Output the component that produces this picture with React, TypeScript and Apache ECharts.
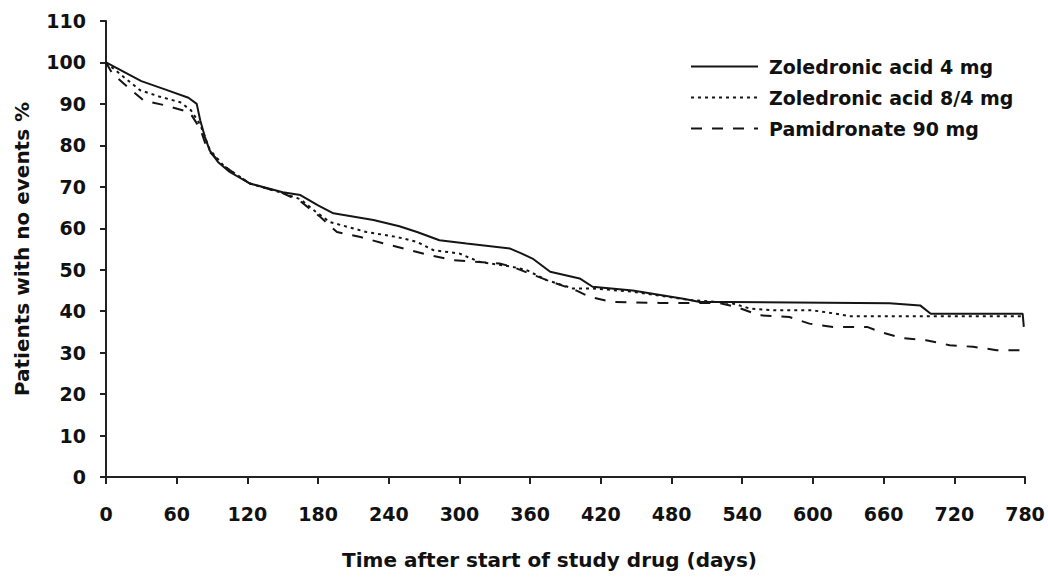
import React, { useEffect, useRef } from "react";
import * as echarts from "echarts";

const seriesNames = ["Zoledronic acid 4 mg", "Zoledronic acid 8/4 mg", "Pamidronate 90 mg"];

const za4: [number, number][] = [
  [0, 100], [10, 98.5], [30, 95.5], [50, 93.5], [70, 91.5], [77, 90], [80, 86], [84, 82],
  [88, 78.8], [95, 76], [105, 73.6], [122, 70.8], [150, 68.7], [165, 68], [180, 65.5],
  [193, 63.6], [227, 62], [249, 60.5], [264, 59.1], [283, 57.1], [306, 56.3], [343, 55.1],
  [352, 54], [362, 52.7], [377, 49.5], [402, 47.9], [413, 45.9], [447, 45], [490, 43],
  [504, 42.2], [530, 42.2], [665, 41.9], [691, 41.4], [700, 39.4], [778, 39.4], [779, 36.2],
];

const za84: [number, number][] = [
  [0, 100], [15, 96.5], [29, 93.3], [45, 91.8], [63, 90.4], [72, 88.5], [80, 85], [88, 79],
  [100, 75], [122, 70.8], [150, 68.5], [165, 67], [178, 64], [190, 61.5], [221, 59.1],
  [247, 57.9], [264, 56.7], [278, 54.7], [300, 53.9], [317, 51.9], [345, 50.7], [357, 49.9],
  [374, 47.5], [396, 45.5], [413, 45.5], [447, 44.7], [496, 42.7], [530, 42], [547, 40.6],
  [569, 40.2], [600, 40.2], [617, 39.5], [631, 38.8], [779, 38.8],
];

const pam90: [number, number][] = [
  [0, 100], [5, 97.5], [15, 94.9], [32, 90.8], [51, 89.6], [71, 88], [80, 84], [86, 79],
  [100, 75], [122, 70.8], [150, 68.5], [165, 66.5], [182, 62.7], [196, 59.1], [216, 57.9],
  [235, 56.4], [258, 54.7], [275, 53.5], [295, 52.3], [334, 51.5], [345, 50.7], [374, 47.5],
  [399, 45], [411, 43.4], [430, 42.2], [470, 42], [520, 42], [535, 41], [555, 39], [580, 38.6],
  [597, 37], [617, 36.2], [646, 36.2], [657, 35], [676, 33.5], [696, 33], [716, 31.8],
  [736, 31.4], [756, 30.6], [779, 30.6],
];

const FONT = "DejaVu Sans";

export default function App() {
  const ref = useRef<HTMLDivElement>(null);
  useEffect(() => {
    if (!ref.current) return;
    const chart = echarts.init(ref.current, undefined, { renderer: "svg" });
    const lineColor = "#151515";
    const mk = (name: string, data: [number, number][], type: any) => ({
      name,
      type: "line",
      data,
      symbol: "none",
      showSymbol: false,
      lineStyle: { color: lineColor, width: 2, type },
      itemStyle: { color: lineColor },
    });
    chart.setOption({
      animation: false,
      backgroundColor: "#ffffff",
      grid: { left: 106, right: 23, top: 21, bottom: 100, containLabel: false },
      legend: {
        orient: "vertical",
        left: 685,
        top: 52,
        itemWidth: 67,
        itemHeight: 14,
        itemGap: 12,
        data: seriesNames,
        itemStyle: { opacity: 0 },
        textStyle: {
          fontFamily: FONT,
          fontWeight: "bold",
          fontSize: 19,
          lineHeight: 19,
          color: "#111",
          padding: [0, 0, 0, 6],
        },
      },
      xAxis: {
        type: "value",
        min: 0,
        max: 780,
        interval: 60,
        name: "Time after start of study drug (days)",
        nameLocation: "middle",
        nameGap: 73,
        nameTextStyle: {
          fontFamily: FONT,
          fontWeight: "bold",
          fontSize: 20,
          color: "#111",
          padding: [0, 32, 0, 0],
        },
        axisLine: { show: true, lineStyle: { color: "#222", width: 2 } },
        axisTick: { show: true, inside: false, length: 7, lineStyle: { color: "#222", width: 2 } },
        axisLabel: { fontFamily: FONT, fontWeight: "bold", fontSize: 19, color: "#111", margin: 27 },
        splitLine: { show: false },
      },
      yAxis: {
        type: "value",
        min: 0,
        max: 110,
        interval: 10,
        name: "Patients with no events %",
        nameLocation: "middle",
        nameGap: 74,
        nameTextStyle: {
          fontFamily: FONT,
          fontWeight: "bold",
          fontSize: 20,
          color: "#111",
        },
        axisLine: { show: true, lineStyle: { color: "#222", width: 2 } },
        axisTick: { show: true, inside: false, length: 6, lineStyle: { color: "#222", width: 2 } },
        axisLabel: { fontFamily: FONT, fontWeight: "bold", fontSize: 19, color: "#111", margin: 20 },
        splitLine: { show: false },
      },
      series: [
        mk(seriesNames[0], za4, "solid"),
        mk(seriesNames[1], za84, [3, 4]),
        mk(seriesNames[2], pam90, [11, 10]),
      ],
    });
    return () => chart.dispose();
  }, []);
  return <div ref={ref} style={{ width: 1048, height: 577, position: "absolute", left: 0, top: 0 }} />;
}
